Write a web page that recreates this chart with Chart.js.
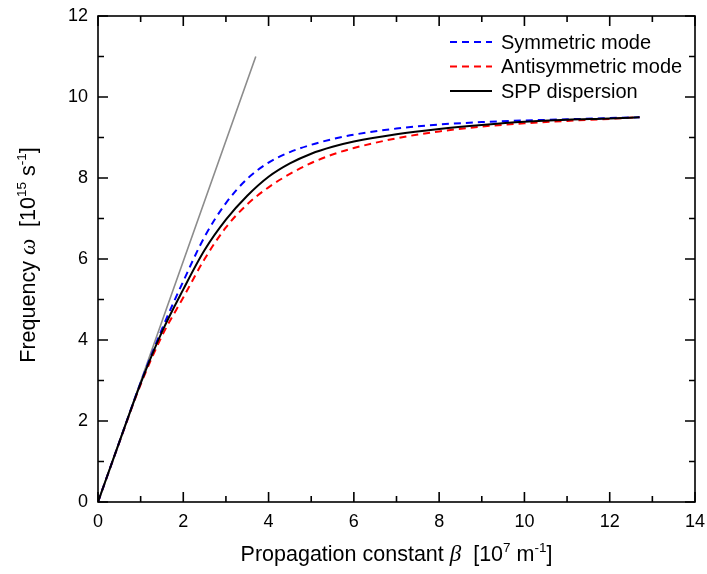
<!DOCTYPE html>
<html>
<head>
<meta charset="utf-8">
<script src="https://cdn.jsdelivr.net/npm/chart.js@4"></script>
<style>
  body { margin: 0; background: #fff; }
  #wrap { width: 707px; height: 574px; }
</style>
</head>
<body>
<div id="wrap"><canvas id="chart" width="707" height="574"></canvas></div>
<script>
// values
const beta = [0, 0.5, 1, 1.5, 2, 2.5, 3, 3.5, 4, 4.5, 5, 5.5, 6, 7, 8, 9, 10, 11, 12, 12.7];
const symmetric = [0, 1.48, 2.95, 4.27, 5.45, 6.55, 7.38, 7.98, 8.38, 8.64, 8.82, 8.96, 9.07, 9.22, 9.32, 9.38, 9.42, 9.45, 9.48, 9.5];
const antisymmetric = [0, 1.47, 2.9, 4.1, 5.05, 6.0, 6.78, 7.35, 7.77, 8.1, 8.37, 8.58, 8.74, 8.98, 9.15, 9.27, 9.35, 9.41, 9.46, 9.5];
const spp = [0, 1.48, 2.93, 4.2, 5.25, 6.22, 6.97, 7.56, 8.03, 8.36, 8.6, 8.77, 8.9, 9.08, 9.21, 9.31, 9.39, 9.44, 9.47, 9.5];
const lightBeta = [0, 3.7];
const lightOmega = [0, 11];

const xTicks = [0, 2, 4, 6, 8, 10, 12, 14];
const yTicks = [0, 2, 4, 6, 8, 10, 12];
const xMinor = [1, 3, 5, 7, 9, 11, 13];
const yMinor = [1, 3, 5, 7, 9, 11];

const toPoints = (xs, ys) => xs.map((x, i) => ({ x: x, y: ys[i] }));

const sans = '"Liberation Sans", Arial, sans-serif';
const serif = '"Liberation Serif", "DejaVu Serif", serif';

// draws a run of text pieces, some raised as superscripts
const drawRuns = (ctx, runs, x, y) => {
    runs.forEach((r) => {
        ctx.font = r.font;
        ctx.fillText(r.text, x, y - (r.up || 0));
        x += ctx.measureText(r.text).width;
    });
};
const runsWidth = (ctx, runs) => runs.reduce((w, r) => {
    ctx.font = r.font;
    return w + ctx.measureText(r.text).width;
}, 0);

const big = '21.5px ' + sans;
const sup = '13.5px ' + sans;
const greek = 'italic 23px ' + serif;
const xTitle = [
    { text: 'Propagation constant ', font: big },
    { text: 'β', font: greek },
    { text: '  [10', font: big },
    { text: '7', font: sup, up: 9 },
    { text: ' m', font: big },
    { text: '-1', font: sup, up: 9 },
    { text: ']', font: big }
];
const yTitle = [
    { text: 'Frequency ', font: big },
    { text: 'ω', font: greek },
    { text: '  [10', font: big },
    { text: '15', font: sup, up: 9 },
    { text: ' s', font: big },
    { text: '-1', font: sup, up: 9 },
    { text: ']', font: big }
];

const framePlugin = {
    id: 'frame',
    afterDraw(chart) {
        const ctx = chart.ctx;
        const a = chart.chartArea;
        const xs = chart.scales.x;
        const ys = chart.scales.y;
        ctx.save();
        ctx.strokeStyle = '#000';
        ctx.lineWidth = 1.6;
        ctx.strokeRect(a.left, a.top, a.right - a.left, a.bottom - a.top);

        const tick = (vals, len) => {
            vals.forEach((v) => {
                const px = xs.getPixelForValue(v);
                ctx.beginPath();
                ctx.moveTo(px, a.bottom); ctx.lineTo(px, a.bottom - len);
                ctx.moveTo(px, a.top); ctx.lineTo(px, a.top + len);
                ctx.stroke();
            });
        };
        const tickY = (vals, len) => {
            vals.forEach((v) => {
                const py = ys.getPixelForValue(v);
                ctx.beginPath();
                ctx.moveTo(a.left, py); ctx.lineTo(a.left + len, py);
                ctx.moveTo(a.right, py); ctx.lineTo(a.right - len, py);
                ctx.stroke();
            });
        };
        tick(xTicks, 10); tick(xMinor, 6);
        tickY(yTicks, 10); tickY(yMinor, 6);

        // tick labels
        ctx.fillStyle = '#000';
        ctx.font = '18px ' + sans;
        ctx.textAlign = 'center';
        ctx.textBaseline = 'middle';
        xTicks.forEach((v) => ctx.fillText(String(v), xs.getPixelForValue(v), a.bottom + 20));
        ctx.textAlign = 'right';
        yTicks.forEach((v) => ctx.fillText(String(v), a.left - 10, ys.getPixelForValue(v)));

        // axis titles
        ctx.textAlign = 'left';
        ctx.textBaseline = 'alphabetic';
        const cx = (a.left + a.right) / 2;
        let w = runsWidth(ctx, xTitle);
        drawRuns(ctx, xTitle, cx - w / 2, 561);

        const cy = (a.top + a.bottom) / 2;
        ctx.save();
        ctx.translate(35, cy - 4);
        ctx.rotate(-Math.PI / 2);
        w = runsWidth(ctx, yTitle);
        drawRuns(ctx, yTitle, -w / 2, 0);
        ctx.restore();

        // legend
        const legendSets = chart.data.datasets.filter((d) => d.label);
        ctx.font = '20px ' + sans;
        ctx.textBaseline = 'middle';
        legendSets.forEach((d, i) => {
            const y = 42 + i * 24.5;
            ctx.beginPath();
            ctx.strokeStyle = d.borderColor;
            ctx.lineWidth = d.borderWidth;
            ctx.setLineDash(d.borderDash || []);
            ctx.moveTo(450, y); ctx.lineTo(492, y);
            ctx.stroke();
            ctx.setLineDash([]);
            ctx.fillStyle = '#000';
            ctx.fillText(d.label, 501, y + 1);
        });
        ctx.restore();
    }
};

const line = (label, pts, color, dash, order, width) => ({
    label: label,
    data: pts,
    borderColor: color,
    borderWidth: width,
    borderDash: dash,
    pointRadius: 0,
    fill: false,
    cubicInterpolationMode: 'monotone',
    order: order
});

new Chart(document.getElementById('chart'), {
    type: 'line',
    data: {
        datasets: [
            line('Symmetric mode', toPoints(beta, symmetric), '#0000ff', [7, 5], 1, 2),
            line('Antisymmetric mode', toPoints(beta, antisymmetric), '#ff0000', [7, 5], 2, 2),
            line('SPP dispersion', toPoints(beta, spp), '#000000', [], 0, 2),
            line('', toPoints(lightBeta, lightOmega), '#8c8c8c', [], 3, 1.6)
        ]
    },
    options: {
        responsive: false,
        animation: false,
        layout: { padding: { left: 98, top: 16, right: 12, bottom: 72 } },
        plugins: { legend: { display: false }, tooltip: { enabled: false } },
        scales: {
            x: { type: 'linear', min: 0, max: 14, display: false },
            y: { type: 'linear', min: 0, max: 12, display: false }
        }
    },
    plugins: [framePlugin]
});
</script>
</body>
</html>
